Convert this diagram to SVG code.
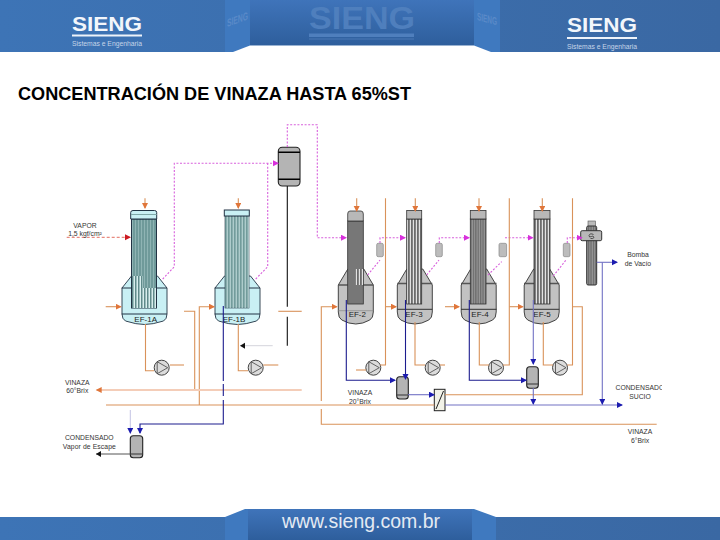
<svg xmlns="http://www.w3.org/2000/svg" width="720" height="540" viewBox="0 0 720 540">
<style>
text{font-family:"Liberation Sans",Arial,sans-serif}
.lbl{font-size:6.800px;fill:#333;text-anchor:middle}
.ef{font-size:8px;fill:#222;text-anchor:middle}
.o{fill:none;stroke:#d9925a;stroke-width:1.100}
.n{fill:none;stroke:#1c1c8e;stroke-width:1.100}
.lb{fill:none;stroke:#7272c4;stroke-width:1.100}
.m{fill:none;stroke:#d860dc;stroke-width:1.100;stroke-dasharray:2 1.600}
.k{fill:none;stroke:#111;stroke-width:1.100}
.pump{fill:#dcdcdc;stroke:#444;stroke-width:1}
.tri{fill:none;stroke:#444;stroke-width:.8}
.cy{fill:#c9f0f4;stroke:#234;stroke-width:.9}
.gr{fill:#c2c2c2;stroke:#333;stroke-width:.9}
.tank{fill:#b4b4b4;stroke:#222;stroke-width:1.100}
.sep{fill:#bcbcbc;stroke:#888;stroke-width:.7}
</style>
<defs>
<linearGradient id="band" x1="0" x2="1" y1="0" y2="0"><stop offset="0" stop-color="#3d74b6"/><stop offset="1" stop-color="#3a68a3"/></linearGradient>
<linearGradient id="mid" x1="0" x2="0" y1="0" y2="1"><stop offset="0" stop-color="#3f74ba"/><stop offset="1" stop-color="#2e5e9c"/></linearGradient>
<pattern id="teal" width="3" height="6" patternUnits="userSpaceOnUse"><rect width="3" height="6" fill="#6f9a9a"/><rect width="1" height="6" fill="#8fb4b4"/></pattern>
<pattern id="tealL" width="3" height="6" patternUnits="userSpaceOnUse"><rect width="3" height="6" fill="#d8eeee"/><rect width="1.500" height="6" fill="#5f8a8a"/></pattern>
<pattern id="gs" width="3" height="6" patternUnits="userSpaceOnUse"><rect width="3" height="6" fill="#e2e2e2"/><rect width="1.800" height="6" fill="#6c6c6c"/></pattern>
<pattern id="gd" width="2.400" height="6" patternUnits="userSpaceOnUse"><rect width="2.400" height="6" fill="#999"/><rect width="1.300" height="6" fill="#6c6c6c"/></pattern>
<marker id="ao" markerUnits="userSpaceOnUse" markerWidth="8" markerHeight="8" refX="5" refY="3" orient="auto"><path d="M0 0L6 3L0 6Z" fill="#e0763a"/></marker>
<marker id="an" markerUnits="userSpaceOnUse" markerWidth="8" markerHeight="8" refX="5" refY="3" orient="auto"><path d="M0 0L6 3L0 6Z" fill="#1c1cb0"/></marker>
<marker id="am" markerUnits="userSpaceOnUse" markerWidth="8" markerHeight="8" refX="5" refY="3" orient="auto"><path d="M0 0L6 3L0 6Z" fill="#d830dc"/></marker>
<marker id="ar" markerUnits="userSpaceOnUse" markerWidth="8" markerHeight="8" refX="5" refY="3" orient="auto"><path d="M0 0L6 3L0 6Z" fill="#cc1a22"/></marker>
<marker id="ak" markerUnits="userSpaceOnUse" markerWidth="8" markerHeight="8" refX="5" refY="3" orient="auto"><path d="M0 0L5 3L0 6Z" fill="#111"/></marker>
<path id="shellA" d="M-22.500 288L-13 276H13L22.500 288V314Q22.500 319 19 321Q8 324.500 0 324.500Q-8 324.500-19 321Q-22.500 319-22.500 314Z"/>
<path id="shellB" d="M-17.500 285L-8 269H8L17.500 285V312Q17.500 318 14 320Q7 324 0 324Q-7 324-14 320Q-17.500 318-17.500 312Z"/>
<g id="pump"><circle r="7.500" class="pump"/><path class="tri" d="M-4.500-6V6L6 0Z"/></g>
</defs>

<g id="header">
<rect width="720" height="52" fill="url(#band)"/>
<rect x="225" width="25" height="52" fill="#3f79bf"/>
<rect x="474" width="26" height="52" fill="#3f79bf"/>
<rect x="250" width="224" height="45.500" fill="url(#mid)"/>
<path d="M233 52L250 45.500H474L491 52Z" fill="#fff"/>
<text x="107" y="31" font-size="21" font-weight="700" fill="#f2f6fb" text-anchor="middle" textLength="70" lengthAdjust="spacingAndGlyphs">SIENG</text>
<rect x="72" y="34.500" width="70" height="2" fill="#eef3fa"/>
<text x="107" y="46" font-size="6.500" fill="#c6d5e8" text-anchor="middle" textLength="70" lengthAdjust="spacingAndGlyphs">Sistemas e Engenharia</text>
<text x="602" y="32" font-size="21" font-weight="700" fill="#f2f6fb" text-anchor="middle" textLength="70" lengthAdjust="spacingAndGlyphs">SIENG</text>
<rect x="567" y="37" width="70" height="2" fill="#eef3fa"/>
<text x="602" y="49" font-size="6.500" fill="#c6d5e8" text-anchor="middle" textLength="70" lengthAdjust="spacingAndGlyphs">Sistemas e Engenharia</text>
<text x="362" y="29" font-size="31" font-weight="700" fill="#4f7fbd" text-anchor="middle" textLength="106" lengthAdjust="spacingAndGlyphs">SIENG</text>
<rect x="309" y="33.500" width="105" height="3.500" fill="#4f7fbd"/>
<rect x="309" y="38.500" width="105" height="1" fill="#4a78b4"/>
<text transform="translate(227 27) skewY(-20)" font-size="11" font-weight="700" fill="#5a8ac8" textLength="21" lengthAdjust="spacingAndGlyphs">SIENG</text>
<text transform="translate(477 20) skewY(15)" font-size="11" font-weight="700" fill="#5a8ac8" textLength="20" lengthAdjust="spacingAndGlyphs">SIENG</text>
</g>

<text id="title" x="18" y="100" font-size="17.500" font-weight="700" fill="#000" textLength="393" lengthAdjust="spacingAndGlyphs">CONCENTRACIÓN DE VINAZA HASTA 65%ST</text>

<g id="footer">
<rect y="517" width="720" height="23" fill="url(#band)"/>
<path d="M225 517L245 509H474L496 517V540H225Z" fill="#3f79bf"/>
<rect x="248" y="509" width="224" height="31" fill="url(#mid)"/>
<text x="361" y="528" font-size="20.500" fill="#e4eaf3" text-anchor="middle" textLength="158" lengthAdjust="spacingAndGlyphs">www.sieng.com.br</text>
</g>

<g id="EF-1A">
<use href="#shellA" x="144.500" class="cy"/>
<path d="M121.700 288H167" stroke="#234" stroke-width="1" fill="none"/>
<path d="M121.700 314H167" stroke="#234" fill="none"/>
<rect x="131.500" y="219" width="25" height="89" fill="url(#teal)" stroke="#234" stroke-width="1"/>
<rect x="132" y="276" width="11" height="12" fill="url(#tealL)"/>
<rect x="132" y="288" width="24" height="20" fill="url(#tealL)"/>
<path d="M130.700 219V212.500Q130.700 210.500 133 210.500H154.500Q156.700 210.500 156.700 212.500V219Z" fill="#c9f0f4" stroke="#234" stroke-width="1"/>
<path d="M131 214.500H156.700" stroke="#7fa8a8"/>
<text class="ef" x="145.700" y="322">EF-1A</text>
</g>
<g id="EF-1B">
<use href="#shellA" x="237.500" class="cy"/>
<path d="M214.700 288H260" stroke="#234" fill="none"/>
<path d="M214.700 314H260" stroke="#234" fill="none"/>
<rect x="225" y="216" width="24" height="92" fill="url(#teal)" stroke="#234" stroke-width=".6"/>
<rect x="225" y="216" width="24" height="92" fill="url(#tealL)" opacity=".6"/>
<rect x="224.300" y="210" width="25" height="6" fill="#c9f0f4" stroke="#234" stroke-width="1"/>
<text class="ef" x="234" y="322">EF-1B</text>
</g>
<g id="tank-top">
<rect x="278.300" y="147.300" width="21.700" height="38.700" rx="4" class="tank"/>
<path d="M278.300 152.300H300M278.300 179.300H300" stroke="#000" stroke-width="1.400" fill="none"/>
</g>
<g id="EF-2">
<use href="#shellB" x="355.800" class="gr"/>
<path d="M338.300 285H373.300" stroke="#555" stroke-width="1.500" fill="none"/>
<path d="M338.300 310.700H373.300" stroke="#888" stroke-width=".7" fill="none"/>
<rect x="347.700" y="221" width="15.600" height="83" fill="#777" stroke="#333" stroke-width=".8"/>
<rect x="355" y="269" width="8" height="16" fill="url(#gs)"/>
<path d="M347.700 221V214Q347.700 211 350 211H361Q363.300 211 363.300 214V221Z" fill="#b8b8b8" stroke="#333" stroke-width=".8"/>
<text class="ef" x="357.300" y="317">EF-2</text>
</g>
<g id="EF-3">
<use href="#shellB" x="414.800" class="gr"/>
<path d="M397.300 283.500H432.300" stroke="#555" stroke-width="1.500" fill="none"/>
<path d="M397.300 309.300H432.300" stroke="#333" fill="none"/>
<rect x="406.700" y="219" width="15" height="85" fill="url(#gs)" stroke="#333" stroke-width=".8"/>
<rect x="406.700" y="210.500" width="15" height="8.500" fill="#b8b8b8" stroke="#333" stroke-width=".8"/>
<text class="ef" x="414" y="317">EF-3</text>
</g>
<g id="EF-4">
<use href="#shellB" x="478.700" class="gr"/>
<path d="M461 283.500H496.500" stroke="#555" stroke-width="1.500" fill="none"/>
<path d="M461 309.300H496.500" stroke="#333" fill="none"/>
<rect x="470.300" y="219" width="15.700" height="85" fill="url(#gd)" stroke="#333" stroke-width=".8"/>
<rect x="470.300" y="210.500" width="15.700" height="8.500" fill="#b8b8b8" stroke="#333" stroke-width=".8"/>
<text class="ef" x="480" y="317">EF-4</text>
</g>
<g id="EF-5">
<use href="#shellB" x="541.700" class="gr"/>
<path d="M524 283.500H559.300" stroke="#555" stroke-width="1.500" fill="none"/>
<path d="M524 309.300H559.300" stroke="#333" fill="none"/>
<rect x="534" y="219" width="16" height="85" fill="url(#gs)" stroke="#333" stroke-width=".8"/>
<rect x="534" y="210.500" width="16" height="8.500" fill="#b8b8b8" stroke="#333" stroke-width=".8"/>
<text class="ef" x="542" y="317">EF-5</text>
</g>
<g id="sep-1"><rect x="376.700" y="243.300" width="6.600" height="13.400" rx="1.500" class="sep"/></g>
<g id="sep-2"><rect x="435.700" y="243.300" width="6.600" height="13.400" rx="1.500" class="sep"/></g>
<g id="sep-3"><rect x="499" y="243.300" width="7.600" height="13.400" rx="1.500" class="sep"/></g>
<g id="sep-4"><rect x="563.300" y="243.300" width="6.700" height="13.400" rx="1.500" class="sep"/></g>
<g id="condenser">
<rect x="588" y="221" width="7.500" height="6" fill="#bbb" stroke="#555" stroke-width=".6"/>
<rect x="586.700" y="226" width="10" height="59" rx="1.500" fill="url(#gd)" stroke="#333"/>
<rect x="580.700" y="230.700" width="21" height="10" rx="1.500" fill="#b8b8b8" stroke="#333"/>
<path d="M593.500 234.500Q590 232.800 589 235.500Q589 238 591.500 236.500Q593 235 594 237.500Q593 239 590.500 238.500" fill="none" stroke="#333" stroke-width=".8"/>
</g>
<g id="pump-1"><use href="#pump" x="161.700" y="367.700"/></g>
<g id="pump-2"><use href="#pump" x="255.700" y="367.700"/></g>
<g id="pump-3"><use href="#pump" x="373.300" y="367.700"/></g>
<g id="pump-4"><use href="#pump" x="432.700" y="367.700"/></g>
<g id="pump-5"><use href="#pump" x="496" y="367.700"/></g>
<g id="pump-6"><use href="#pump" x="560" y="367.700"/></g>
<g id="tank-a"><rect x="396.700" y="376.700" width="11.600" height="22.300" rx="3" class="tank"/><path d="M396.700 395H408.300" stroke="#333" fill="none"/></g>
<g id="tank-b"><rect x="526.700" y="366.700" width="11.600" height="21.600" rx="3" class="tank"/><path d="M526.700 384H538.300" stroke="#333" fill="none"/></g>
<g id="tank-c"><rect x="130.300" y="435.700" width="12.400" height="22" rx="3" class="tank"/><path d="M130.300 454H142.700" stroke="#333" fill="none"/></g>
<g id="exchanger">
<rect x="434.300" y="389.300" width="10.700" height="21.400" fill="#f2f2e8" stroke="#222" stroke-width="1"/>
<path d="M436 409L443.500 391" stroke="#222" fill="none"/>
</g>

<g id="connectors">
<path class="m" d="M162.700 279L174.300 266.700V163.300H278" marker-end="url(#am)"/>
<path class="m" d="M255.700 279L267.700 266.700V163.300"/>
<path class="m" d="M287.300 147V124.700H317.300V237.700H346" marker-end="url(#am)"/>
<path class="m" d="M380 243V237.700H405" marker-end="url(#am)"/>
<path class="m" d="M367.700 275L380 260"/>
<path class="m" d="M439.300 243V237.700H469" marker-end="url(#am)"/>
<path class="m" d="M426.700 275L439 260"/>
<path class="m" d="M505 237.700H532.700" marker-end="url(#am)"/>
<path class="m" d="M488 275L501.700 261.700"/>
<path class="m" d="M567.300 243V237.700H581.700" marker-end="url(#am)"/>
<path class="m" d="M553.300 276L566 260"/>
<path d="M66.700 237.300H130" fill="none" stroke="#e88a80" stroke-width="1.200" stroke-dasharray="3 2" marker-end="url(#ar)"/>

<path class="k" d="M287.300 186V306.700M287.300 316.700V345.700"/>
<path class="o" d="M278.300 311.300H301.700"/>
<path d="M272.700 345.700H240" fill="none" stroke="#d4d4dc" stroke-width="1" marker-end="url(#ak)"/>

<path class="o" d="M145 198.300V208" marker-end="url(#ao)"/>
<path class="o" d="M238.300 198.300V208" marker-end="url(#ao)"/>
<path class="o" d="M356.700 198.300V211" marker-end="url(#ao)"/>
<path class="o" d="M415.300 198.300V211" marker-end="url(#ao)"/>
<path class="o" d="M479 198.300V211" marker-end="url(#ao)"/>
<path class="o" d="M542.300 198.300V211" marker-end="url(#ao)"/>
<path class="o" d="M105.700 306.700H120.700" marker-end="url(#ao)"/>
<path class="o" d="M199.300 405V306.700H214" marker-end="url(#ao)"/>
<path class="o" d="M184 311.300H194.700V390"/>
<path class="o" d="M321.300 401V306.700H336.700" marker-end="url(#ao)"/>
<path class="o" d="M321.300 409V424.300H656.700"/>
<path class="o" d="M385 306.700H396" marker-end="url(#ao)"/>
<path class="o" d="M445 306.700H459" marker-end="url(#ao)"/>
<path class="o" d="M509.300 306.700H522.700" marker-end="url(#ao)"/>
<path class="o" d="M106 405H434.300"/>
<path d="M301.700 390H96.700" fill="none" stroke="#f4cdb8" stroke-width="2.200" marker-end="url(#ao)"/>

<path class="o" d="M145.500 324V370.700H154"/>
<path class="o" d="M170 365H184"/>
<path class="o" d="M238.300 324V370.700H248"/>
<path class="o" d="M263.300 365H278.300"/>
<path class="o" d="M356 370H366"/>
<path class="o" d="M380 365H385.500V198.300"/>
<path class="o" d="M415 322V365H425"/>
<path class="o" d="M440 365H445"/>
<path class="o" d="M479.300 322V365H489"/>
<path class="o" d="M503 365H509.300V198.300"/>
<path class="o" d="M543.300 322V365H553"/>
<path class="o" d="M567.300 365H572.500V198.300M572.500 306.700H582.300V394.700H445"/>

<path class="n" d="M223.300 306V381M223.300 384V396M223.300 400V424H140V433" marker-end="url(#an)"/>
<path d="M130.300 410V433" fill="none" stroke="#c4c4e4" stroke-width="1" marker-end="url(#an)"/>
<path class="n" d="M346.300 300V380.300H395" marker-end="url(#an)"/>
<path class="n" d="M405.500 300V379" marker-end="url(#an)"/>
<path class="n" d="M469.300 300V380.300H526" marker-end="url(#an)"/>
<path class="lb" d="M533.300 300V364" marker-end="url(#an)"/>
<path class="lb" d="M533.300 388V404" marker-end="url(#an)"/>
<path class="lb" d="M408 394.700H434" marker-end="url(#an)"/>
<path class="lb" d="M445 405H622" marker-end="url(#an)"/>
<path class="lb" d="M596.700 262.300H617" marker-end="url(#an)"/>
<path class="lb" d="M602.300 262.300V404" marker-end="url(#an)"/>
<path d="M130.300 454H96" fill="none" stroke="#555" stroke-width="1" marker-end="url(#ak)"/>
</g>

<g id="labels">
<text class="lbl" x="85" y="227.500">VAPOR</text>
<text class="lbl" x="85" y="236">1,5 kgf/cm²</text>
<text class="lbl" x="77.300" y="384.500">VINAZA</text>
<text class="lbl" x="77.300" y="393">60°Brix</text>
<text class="lbl" x="89.300" y="440.300">CONDENSADO</text>
<text class="lbl" x="89.300" y="449" textLength="53">Vapor de Escape</text>
<text class="lbl" x="360" y="394.500">VINAZA</text>
<text class="lbl" x="360" y="403.500">20°Brix</text>
<text class="lbl" x="615.500" y="389.500" style="text-anchor:start">CONDENSADO</text>
<rect x="662" y="380" width="20" height="14" fill="#fff"/>
<text class="lbl" x="640" y="398.500">SUCIO</text>
<text class="lbl" x="640" y="434">VINAZA</text>
<text class="lbl" x="640" y="443">6°Brix</text>
<text class="lbl" x="638" y="256.500">Bomba</text>
<text class="lbl" x="638" y="265.500">de Vacío</text>
</g>
</svg>
